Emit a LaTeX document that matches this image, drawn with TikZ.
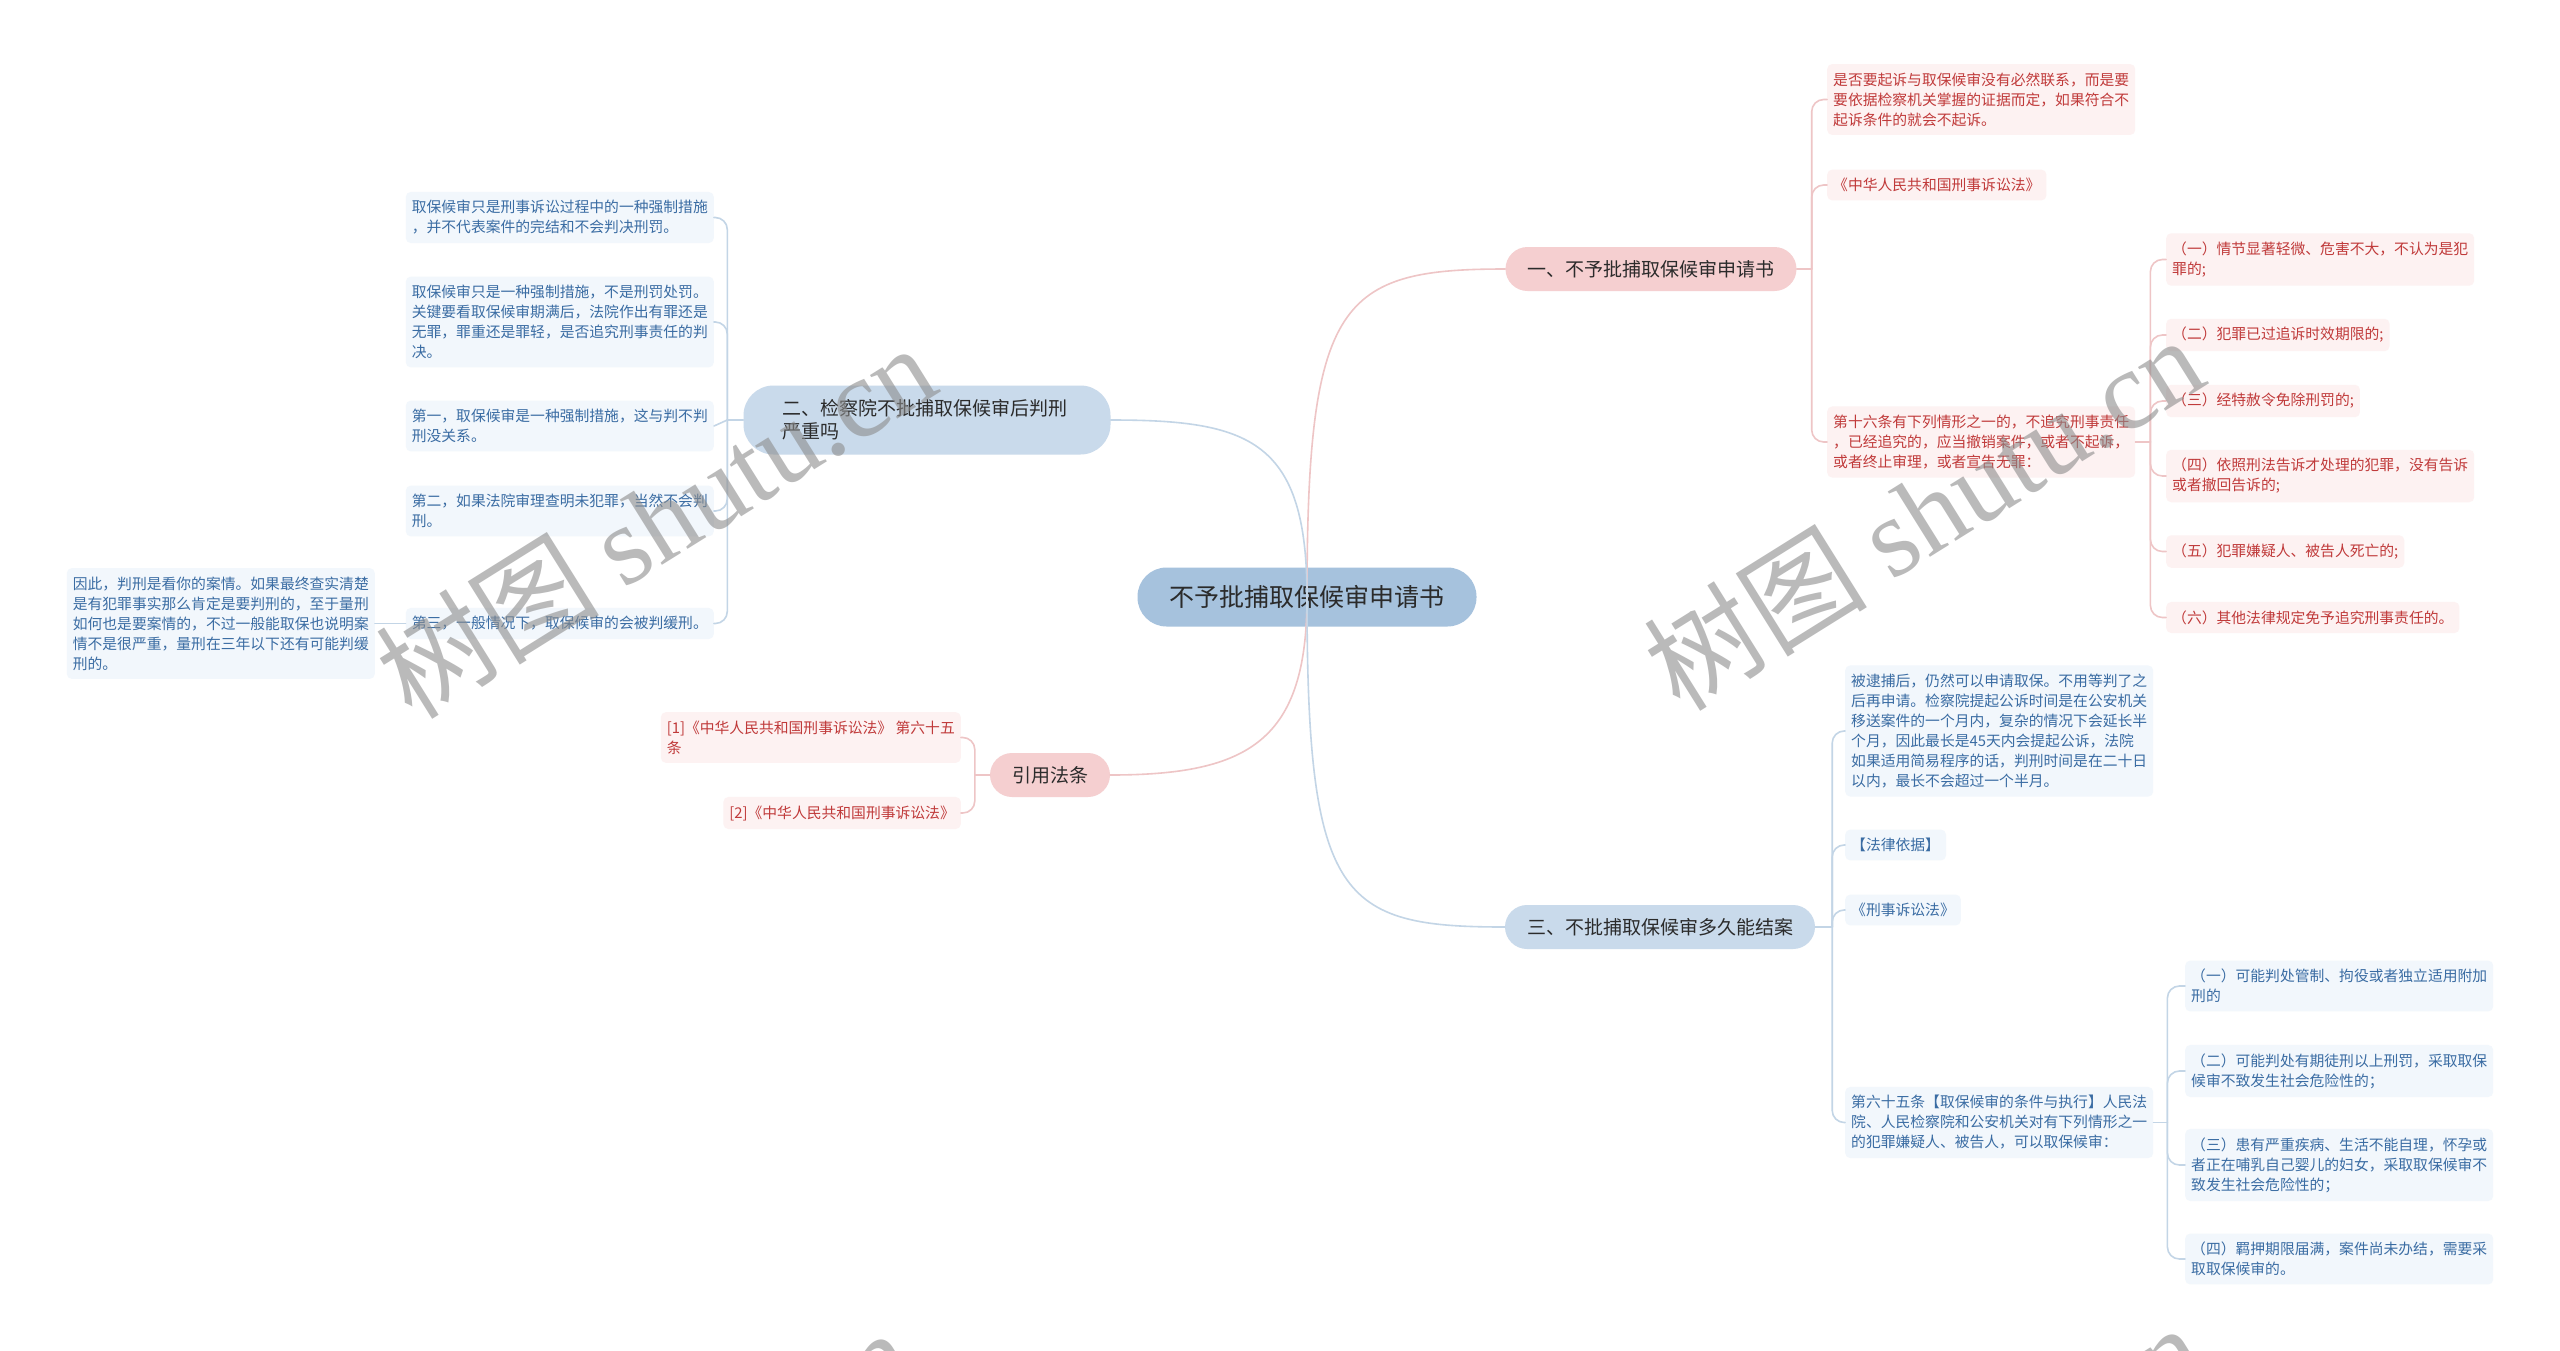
\documentclass[tikz,border=0pt]{standalone}
\usepackage{fontspec}
\setmainfont{Noto Sans CJK SC}
\newfontfamily\wmserif{Liberation Serif}
\usepackage{xcolor}
\usetikzlibrary{positioning}

\definecolor{rootbg}{HTML}{A6C2DD}
\definecolor{topicpinkbg}{HTML}{F5CFD0}
\definecolor{topicbluebg}{HTML}{C9DAEB}
\definecolor{leafpinkbg}{HTML}{FDF2F2}
\definecolor{leafbluebg}{HTML}{F2F7FC}
\definecolor{textred}{HTML}{C03A3A}
\definecolor{textblue}{HTML}{3A6CA3}
\definecolor{textdark}{HTML}{2B2B2B}
\definecolor{linepink}{HTML}{EEC5C6}
\definecolor{lineblue}{HTML}{C3D5E6}

\begin{document}
\begin{tikzpicture}[
    x=1pt, y=-1pt, % one unit = one pixel of the reference
    rootnode/.style={fill=rootbg, text=textdark, rounded corners=29pt,
        minimum width=339pt, minimum height=59pt, font=\fontsize{25}{30}\selectfont},
    topicpink/.style={fill=topicpinkbg, text=textdark, rounded corners=22pt,
        minimum height=44pt, inner xsep=22pt, font=\fontsize{19}{23}\selectfont},
    topicblue/.style={topicpink, fill=topicbluebg},
    leafpink/.style={fill=leafpinkbg, text=textred, rounded corners=5pt, align=left,
        inner xsep=6pt, inner ysep=8.5pt, font=\fontsize{14.8}{20}\selectfont},
    leafblue/.style={leafpink, fill=leafbluebg, text=textblue},
    linkpink/.style={draw=linepink, line width=1.6pt, line cap=round},
    linkblue/.style={draw=lineblue, line width=1.6pt, line cap=round},
    watermark/.style={text=black!45, text opacity=0.6, rotate=32,
        font=\fontsize{112}{116}\selectfont}
]
    \clip (0,0) rectangle (2560,1350);
    \fill[white] (0,0) rectangle (2560,1350);

    % main topics
    \node[rootnode] (root) at (1307,597) {不予批捕取保候审申请书};
    \node[topicpink] (one) at (1651,269) {一、不予批捕取保候审申请书};
    \node[topicblue, minimum height=69pt, rounded corners=30pt, align=left,
        text width=290pt, inner xsep=38.5pt] (two) at (927,420)
        {二、检察院不批捕取保候审后判刑\\严重吗};
    \node[topicblue] (three) at (1660,927) {三、不批捕取保候审多久能结案};
    \node[topicpink, inner xsep=22pt] (cite) at (1050,775) {引用法条};

    % leaves of topic one
    \node[leafpink, anchor=west] (a1) at (1827,99.5)
        {是否要起诉与取保候审没有必然联系，而是要\\要依据检察机关掌握的证据而定，如果符合不\\起诉条件的就会不起诉。};
    \node[leafpink, anchor=west] (a2) at (1827,185) {《中华人民共和国刑事诉讼法》};
    \node[leafpink, anchor=west] (a3) at (1827,442)
        {第十六条有下列情形之一的，不追究刑事责任\\，已经追究的，应当撤销案件，或者不起诉，\\或者终止审理，或者宣告无罪：};
    \node[leafpink, anchor=west] (c1) at (2166,259.5) {（一）情节显著轻微、危害不大，不认为是犯\\罪的;};
    \node[leafpink, anchor=west] (c2) at (2166,335) {（二）犯罪已过追诉时效期限的;};
    \node[leafpink, anchor=west] (c3) at (2166,401) {（三）经特赦令免除刑罚的;};
    \node[leafpink, anchor=west] (c4) at (2166,476) {（四）依照刑法告诉才处理的犯罪，没有告诉\\或者撤回告诉的;};
    \node[leafpink, anchor=west] (c5) at (2166,551.5) {（五）犯罪嫌疑人、被告人死亡的;};
    \node[leafpink, anchor=west] (c6) at (2166,617.5) {（六）其他法律规定免予追究刑事责任的。};

    % leaves of topic two
    \node[leafblue, anchor=east] (d1) at (714,217.5)
        {取保候审只是刑事诉讼过程中的一种强制措施\\，并不代表案件的完结和不会判决刑罚。};
    \node[leafblue, anchor=east] (d2) at (714,322)
        {取保候审只是一种强制措施，不是刑罚处罚。\\关键要看取保候审期满后，法院作出有罪还是\\无罪，罪重还是罪轻，是否追究刑事责任的判\\决。};
    \node[leafblue, anchor=east] (d3) at (714,426) {第一，取保候审是一种强制措施，这与判不判\\刑没关系。};
    \node[leafblue, anchor=east] (d4) at (714,511) {第二，如果法院审理查明未犯罪，当然不会判\\刑。};
    \node[leafblue, anchor=east] (d5) at (714,623.5) {第三，一般情况下，取保候审的会被判缓刑。};
    \node[leafblue, anchor=east] (d6) at (375,623.5)
        {因此，判刑是看你的案情。如果最终查实清楚\\是有犯罪事实那么肯定是要判刑的，至于量刑\\如何也是要案情的，不过一般能取保也说明案\\情不是很严重，量刑在三年以下还有可能判缓\\刑的。};

    % leaves of the citations
    \node[leafpink, anchor=east] (e1) at (961,737.5) {[1]《中华人民共和国刑事诉讼法》 第六十五\\条};
    \node[leafpink, anchor=east] (e2) at (961,813) {[2]《中华人民共和国刑事诉讼法》};

    % leaves of topic three
    \node[leafblue, anchor=west] (f1) at (1845,731)
        {被逮捕后，仍然可以申请取保。不用等判了之\\后再申请。检察院提起公诉时间是在公安机关\\移送案件的一个月内，复杂的情况下会延长半\\个月，因此最长是45天内会提起公诉，法院\\如果适用简易程序的话，判刑时间是在二十日\\以内，最长不会超过一个半月。};
    \node[leafblue, anchor=west] (f2) at (1845,845) {【法律依据】};
    \node[leafblue, anchor=west] (f3) at (1845,910) {《刑事诉讼法》};
    \node[leafblue, anchor=west] (f4) at (1845,1122.5)
        {第六十五条【取保候审的条件与执行】人民法\\院、人民检察院和公安机关对有下列情形之一\\的犯罪嫌疑人、被告人，可以取保候审：};
    \node[leafblue, anchor=west] (g1) at (2185,986) {（一）可能判处管制、拘役或者独立适用附加\\刑的};
    \node[leafblue, anchor=west] (g2) at (2185,1071) {（二）可能判处有期徒刑以上刑罚，采取取保\\候审不致发生社会危险性的；};
    \node[leafblue, anchor=west] (g3) at (2185,1165) {（三）患有严重疾病、生活不能自理，怀孕或\\者正在哺乳自己婴儿的妇女，采取取保候审不\\致发生社会危险性的；};
    \node[leafblue, anchor=west] (g4) at (2185,1259) {（四）羁押期限届满，案件尚未办结，需要采\\取取保候审的。};

    % fork points
    \coordinate (onefork) at ([xshift=15pt]one.east);
    \coordinate (a3fork) at ([xshift=15pt]a3.east);
    \coordinate (twofork) at ([xshift=-16pt]two.west);
    \coordinate (citefork) at ([xshift=-15pt]cite.west);
    \coordinate (threefork) at ([xshift=17pt]three.east);
    \coordinate (f4fork) at ([xshift=14pt]f4.east);

    % root to topics
    \draw[linkpink] (root.center) .. controls (1307,300) and (1340,269) .. (one.west);
    \draw[linkblue] (root.center) .. controls (1307,440) and (1250,420) .. (two.east);
    \draw[linkpink] (root.center) .. controls (1307,740) and (1250,775) .. (cite.east);
    \draw[linkblue] (root.center) .. controls (1307,900) and (1340,927) .. (three.west);

    % topics to leaves
    \draw[linkpink] (one.east) -- (onefork);
    \foreach \leaf in {a1,a2,a3}
        \draw[linkpink, rounded corners=12pt] (onefork) |- (\leaf.west);
    \draw[linkpink] (a3.east) -- (a3fork);
    \foreach \leaf in {c1,c2,c3,c4,c5,c6}
        \draw[linkpink, rounded corners=12pt] (a3fork) |- (\leaf.west);

    \draw[linkblue] (two.west) -- (twofork);
    \foreach \leaf in {d1,d2,d4,d5}
        \draw[linkblue, rounded corners=12pt] (twofork) |- (\leaf.east);
    \draw[linkblue] (twofork) -- (d3.east);
    \draw[linkblue] (d5.west) -- (d6.east);

    \draw[linkpink] (cite.west) -- (citefork);
    \foreach \leaf in {e1,e2}
        \draw[linkpink, rounded corners=12pt] (citefork) |- (\leaf.east);

    \draw[linkblue] (three.east) -- (threefork);
    \foreach \leaf in {f1,f2,f3,f4}
        \draw[linkblue, rounded corners=12pt] (threefork) |- (\leaf.west);
    \draw[linkblue] (f4.east) -- (f4fork);
    \foreach \leaf in {g1,g2,g3,g4}
        \draw[linkblue, rounded corners=12pt] (f4fork) |- (\leaf.west);

    % watermarks
    \node[watermark] (wm1) at (655,520) {树图 {\wmserif shutu.cn}};
    \node[watermark] (wm2) at (1923,512) {树图 {\wmserif shutu.cn}};
    \node[watermark] (wm3) at (632,1505) {树图 {\wmserif shutu.cn}};
    \node[watermark] (wm4) at (1923,1500) {树图 {\wmserif shutu.cn}};
\end{tikzpicture}
\end{document}
